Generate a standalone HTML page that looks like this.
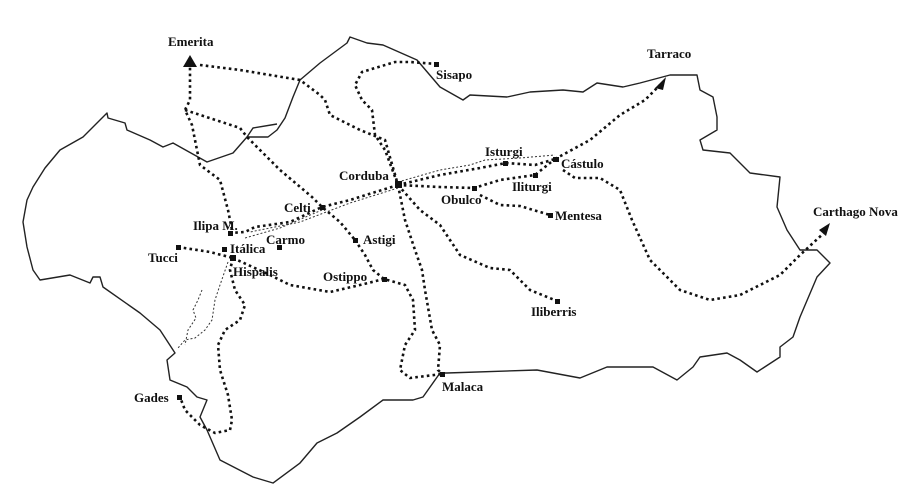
<!DOCTYPE html>
<html><head><meta charset="utf-8"><style>
html,body{margin:0;padding:0;background:#fff;width:920px;height:498px;overflow:hidden}
svg{display:block}
text{font-family:"Liberation Serif",serif;font-weight:bold;font-size:13px;fill:#111}
.r{fill:none;stroke:#111;stroke-width:2.6;stroke-dasharray:2.6 3.2;stroke-linejoin:round}
.t{fill:none;stroke:#333;stroke-width:1;stroke-dasharray:2 2}
</style></head><body>
<svg width="920" height="498" viewBox="0 0 920 498" xmlns="http://www.w3.org/2000/svg">
<path fill="none" stroke="#222" stroke-width="1.4" stroke-linejoin="round" d="M247,137 L268,137 L277,130 L285,118 L293,97 L300,80 L320,63 L347,43 L350,37 L367,43 L383,45 L417,60 L440,87 L463,100 L470,95 L507,97 L530,92 L563,90 L583,92 L597,83 L623,87 L640,83 L670,75 L697,75 L700,90 L713,97 L717,117 L717,130 L700,140 L703,150 L730,153 L750,173 L780,177 L777,207 L787,230 L800,250 L817,250 L830,263 L817,277 L800,317 L793,337 L780,347 L780,357 L757,372 L740,360 L727,353 L700,357 L693,367 L677,380 L653,367 L607,367 L580,378 L537,370 L447,373 L440,373 L423,397 L413,400 L383,400 L360,417 L337,433 L317,443 L300,463 L273,483 L253,477 L220,460 L207,430 L200,417 L207,400 L197,397 L187,387 L170,380 L167,360 L175,353 L160,330 L140,313 L103,287 L100,277 L93,277 L90,283 L70,275 L40,280 L33,270 L27,247 L23,222 L27,200 L33,187 L45,168 L60,150 L83,137 L107,113 L108,118 L125,123 L127,130 L150,140 L163,147 L173,143 L207,162 L233,153 L247,137 L253,128 L277,124"/>
<path class="r" d="M190,62 L190,100 L185,110 L192,125 L200,165 L220,180 L228,210 L232,230"/>
<path class="r" d="M200,65 L240,70 L300,80 L320,95 L325,100 L330,115 L360,130 L385,140 L398,185"/>
<path class="r" d="M185,110 L240,128 L247,137 L280,170 L312,197 L322,207 L340,222 L355,240"/>
<path class="r" d="M437,64 L410,62 L395,62 L362,72 L355,85 L362,100 L372,110 L375,135 L385,150 L398,185"/>
<path class="r" d="M398,185 L350,200 L322,207 L290,222 L255,227 L245,232 L230,233"/>
<path class="r" d="M398,185 L440,175 L480,168 L506,163 L535,165 L555,159"/>
<path class="t" d="M398,182 L440,170 L470,165 L485,160 L520,158 L555,155 M398,188 L350,203 L300,222 L250,232 M322,210 L280,228 L245,238"/>
<path class="r" d="M555,159 L590,140 L620,115 L645,100 L660,85"/>
<path class="r" d="M563,170 L575,178 L600,178 L620,190 L632,220 L650,260 L680,290 L710,300 L740,295 L780,275 L800,255 L825,232"/>
<path class="r" d="M398,185 L440,187 L474,188 L500,180 L535,175 L555,159"/>
<path class="r" d="M480,195 L500,205 L520,206 L540,212 L550,215"/>
<path class="r" d="M398,185 L420,210 L440,225 L460,255 L490,268 L510,270 L530,290 L557,301"/>
<path class="r" d="M398,185 L405,220 L415,250 L422,270 L425,290 L432,330 L440,345 L438,370 L442,374"/>
<path class="r" d="M355,240 L365,255 L373,270 L384,279 L405,285 L413,300 L415,330 L405,345 L400,370 L410,378 L442,374"/>
<path class="r" d="M233,258 L270,275 L290,285 L330,292 L360,285 L384,279"/>
<path class="r" d="M178,247 L210,252 L233,258"/>
<path class="r" d="M233,258 L230,270 L235,290 L245,305 L240,320 L225,330 L218,345 L220,370 L228,395 L232,420 L230,430 L215,433 L200,425 L185,410 L180,397"/>
<path class="t" d="M228,262 L220,285 L215,300 L212,320 L205,330 L195,338 L185,340 L178,348 M202,290 L198,300 L193,310 L196,318 L188,330 L185,345"/>
<polygon points="190,55 183,67 197,67" fill="#111"/>
<polygon points="666,77 655,88 663,90" fill="#111"/>
<polygon points="830,223 819,230 826,236" fill="#111"/>
<g fill="#111">
<rect x="434" y="62" width="5" height="5"/><rect x="395" y="181" width="7" height="7"/><rect x="320" y="205" width="5" height="5"/>
<rect x="228" y="231" width="5" height="5"/><rect x="222" y="247" width="5" height="5"/><rect x="230" y="255" width="6" height="6"/>
<rect x="176" y="245" width="5" height="5"/><rect x="277" y="245" width="5" height="5"/><rect x="353" y="238" width="5" height="5"/>
<rect x="382" y="277" width="5" height="5"/><rect x="440" y="372" width="5" height="5"/><rect x="177" y="395" width="5" height="5"/>
<rect x="503" y="161" width="5" height="5"/><rect x="553" y="157" width="6" height="5"/><rect x="533" y="173" width="5" height="5"/>
<rect x="472" y="186" width="5" height="5"/><rect x="548" y="213" width="5" height="5"/><rect x="555" y="299" width="5" height="5"/>
</g>
<text x="168" y="46">Emerita</text>
<text x="436" y="79">Sisapo</text>
<text x="647" y="58">Tarraco</text>
<text x="813" y="216">Carthago Nova</text>
<text x="339" y="180">Corduba</text>
<text x="284" y="212">Celti</text>
<text x="193" y="230">Ilipa M.</text>
<text x="230" y="253">Itálica</text>
<text x="148" y="262">Tucci</text>
<text x="266" y="244">Carmo</text>
<text x="363" y="244">Astigi</text>
<text x="233" y="276">Hispalis</text>
<text x="323" y="281">Ostippo</text>
<text x="442" y="391">Malaca</text>
<text x="134" y="402">Gades</text>
<text x="485" y="156">Isturgi</text>
<text x="561" y="168">Cástulo</text>
<text x="512" y="191">Iliturgi</text>
<text x="441" y="204">Obulco</text>
<text x="555" y="220">Mentesa</text>
<text x="531" y="316">Iliberris</text>
</svg>
</body></html>
